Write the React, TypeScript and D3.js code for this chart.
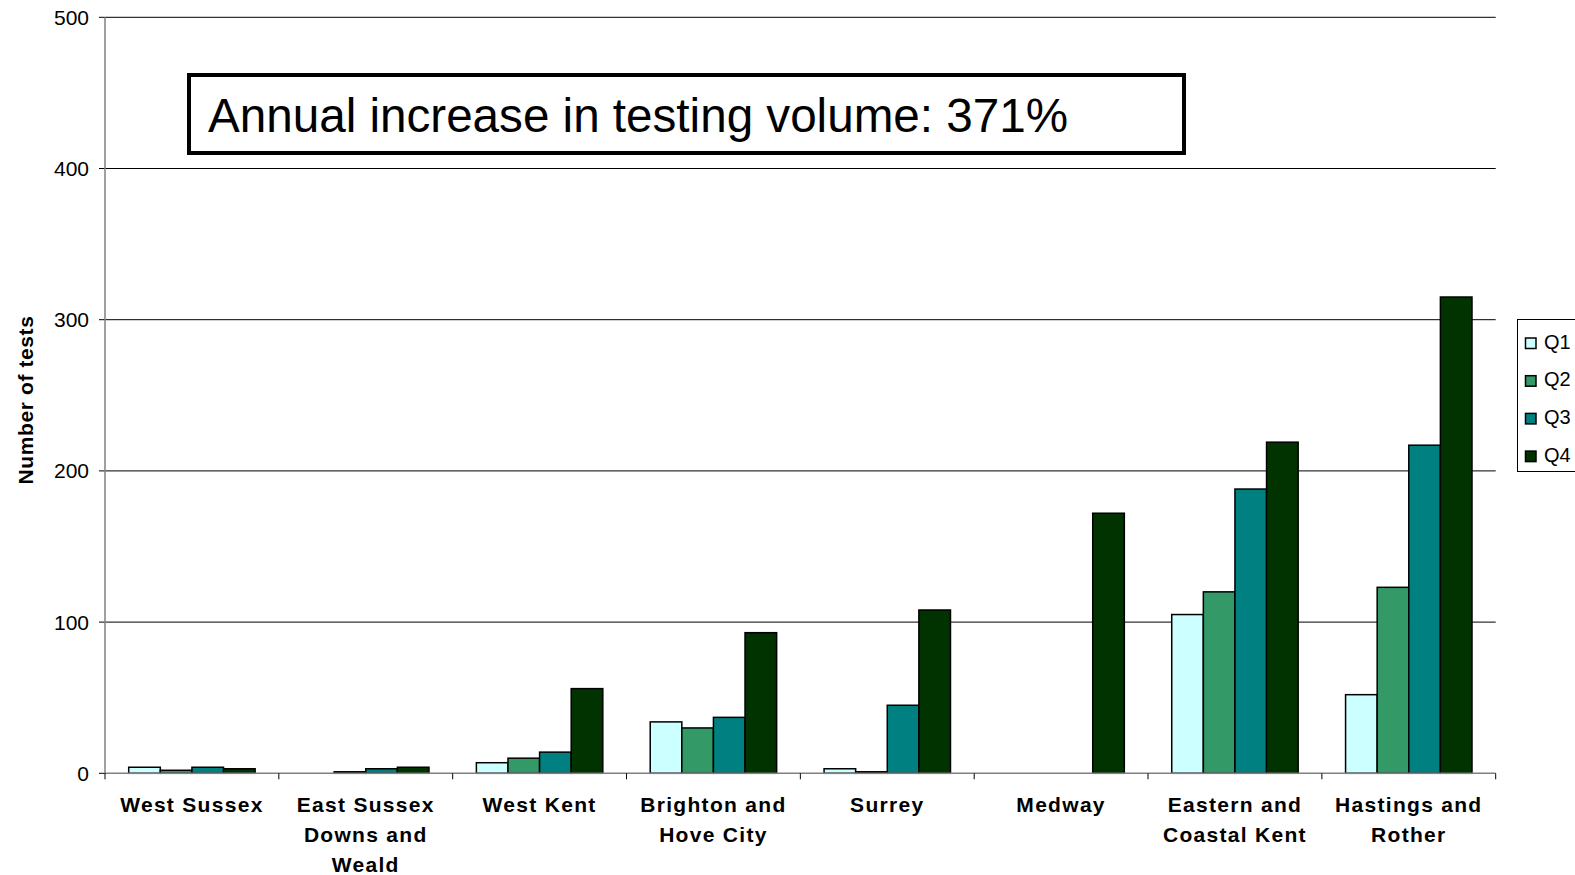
import React from "react";
import * as d3 from "d3";

const categories: string[][] = [
  ["West Sussex"],
  ["East Sussex", "Downs and", "Weald"],
  ["West Kent"],
  ["Brighton and", "Hove City"],
  ["Surrey"],
  ["Medway"],
  ["Eastern and", "Coastal Kent"],
  ["Hastings and", "Rother"],
];
const seriesNames = ["Q1", "Q2", "Q3", "Q4"];
const seriesColors = ["#CCFFFF", "#339966", "#008080", "#003300"];
const q1 = [4, 0, 7, 34, 3, 0, 105, 52];
const q2 = [2, 1, 10, 30, 1, 0, 120, 123];
const q3 = [4, 3, 14, 37, 45, 0, 188, 217];
const q4 = [3, 4, 56, 93, 108, 172, 219, 315];
const seriesValues = [q1, q2, q3, q4];
const yTicks = [0, 100, 200, 300, 400, 500];
const titleText = "Annual increase in testing volume: 371%";
const yTitle = "Number of tests";

const W = 1575;
const H = 875;
const left = 105;
const right = 1495.7;
const top = 17.3;
const bottom = 773.3;

export default function App() {
  const catIdx = categories.map((_, i) => String(i));
  const x = d3.scaleBand<string>().domain(catIdx).range([left, right]).paddingInner(0).paddingOuter(0);
  const bw = x.bandwidth();
  const groupW = (bw * 4) / 5.5;
  const xi = d3.scaleBand<string>().domain(seriesNames).range([0, groupW]).padding(0);
  const y = d3.scaleLinear().domain([0, 500]).range([bottom, top]);
  const font = "'Liberation Sans', Arial, sans-serif";
  const boundaries = d3.range(categories.length + 1).map((i) => left + i * bw);

  return (
    <svg width={W} height={H} style={{ position: "absolute", left: 0, top: 0, background: "#fff" }} fontFamily={font}>
      {/* gridlines */}
      {yTicks.filter((t) => t > 0).map((t) => (
        <line key={"g" + t} x1={left} x2={right} y1={y(t)} y2={y(t)} stroke="#000" strokeWidth={1} />
      ))}
      {/* y ticks and labels */}
      {yTicks.map((t) => (
        <g key={"y" + t}>
          <line x1={left - 6} x2={left} y1={y(t)} y2={y(t)} stroke="#000" strokeWidth={1} />
          <text x={89} y={y(t)} dy="0.36em" textAnchor="end" fontSize={21} fill="#000">
            {t}
          </text>
        </g>
      ))}
      {/* bars */}
      {categories.map((_, ci) => {
        const gx = (x(String(ci)) as number) + (bw - groupW) / 2;
        return seriesNames.map((s, si) => {
          const v = seriesValues[si][ci];
          if (v <= 0) return null;
          return (
            <rect
              key={ci + "-" + s}
              x={gx + (xi(s) as number)}
              y={y(v)}
              width={xi.bandwidth()}
              height={y(0) - y(v)}
              fill={seriesColors[si]}
              stroke="#000"
              strokeWidth={1.5}
            />
          );
        });
      })}
      {/* axes */}
      <line x1={left} x2={left} y1={top} y2={bottom} stroke="#808080" strokeWidth={1.5} />
      <line x1={left} x2={right} y1={bottom} y2={bottom} stroke="#808080" strokeWidth={1.5} />
      {boundaries.map((bx, i) => (
        <line key={"xt" + i} x1={bx} x2={bx} y1={bottom} y2={bottom + 6} stroke="#000" strokeWidth={1} />
      ))}
      {/* x labels */}
      {categories.map((lines, ci) => {
        const cx = (x(String(ci)) as number) + bw / 2;
        return (
          <text key={"xl" + ci} textAnchor="middle" fontSize={21} fontWeight="bold" letterSpacing={1.3} fill="#000">
            {lines.map((ln, li) => (
              <tspan key={li} x={cx} y={811.7 + li * 30}>
                {ln}
              </tspan>
            ))}
          </text>
        );
      })}
      {/* y title */}
      <text
        transform={`translate(33, 400) rotate(-90)`}
        textAnchor="middle"
        fontSize={21}
        fontWeight="bold"
        letterSpacing={0.6}
        fill="#000"
      >
        {yTitle}
      </text>
      {/* title box */}
      <rect x={189} y={75} width={995} height={78} fill="#fff" stroke="#000" strokeWidth={4} />
      <text x={208} y={132} fontSize={48} textLength={860} lengthAdjust="spacingAndGlyphs" fill="#000">
        {titleText}
      </text>
      {/* legend */}
      <rect x={1517.5} y={319.5} width={70} height={152} fill="#fff" stroke="#000" strokeWidth={1} />
      {seriesNames.map((s, si) => (
        <g key={"lg" + s}>
          <rect x={1525.5} y={338 + si * 37.7} width={10.5} height={10.5} fill={seriesColors[si]} stroke="#000" strokeWidth={1.5} />
          <text x={1544} y={348.5 + si * 37.7} fontSize={20} fill="#000">
            {s}
          </text>
        </g>
      ))}
    </svg>
  );
}
